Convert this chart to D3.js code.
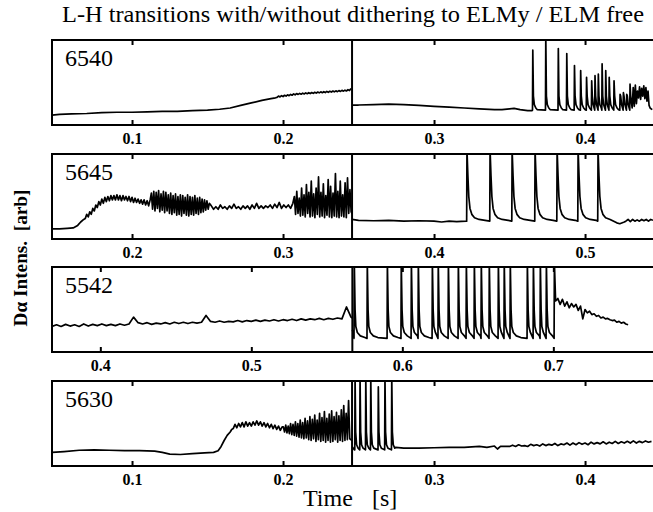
<!DOCTYPE html>
<html><head><meta charset="utf-8">
<script src="https://cdn.jsdelivr.net/npm/d3@7"></script>
<style>body{margin:0;background:#fff}svg{display:block}</style>
</head><body><svg id="c" width="653" height="512" font-family="Liberation Serif"></svg>
<script>
// ================= DATA =================
const titleText = "L-H transitions with/without dithering to ELMy / ELM free";
const yLabel = "D\u03b1 Intens.  [arb]";
const xLabelA = "Time", xLabelB = "[s]";
const shots = ["6540", "5645", "5542", "5630"];
const xDomains = [[0.047, 0.445], [0.147, 0.545], [0.368, 0.766], [0.047, 0.445]];
const splitTimes = [0.2457, 0.3457, 0.5669, 0.2457];
const tickValues = [[0.1, 0.2, 0.3, 0.4], [0.2, 0.3, 0.4, 0.5], [0.4, 0.5, 0.6, 0.7], [0.1, 0.2, 0.3, 0.4]];

// ---- shot 6540 ----
const s6540_L_pts = [[0.047,1.15],[0.052,1.25],[0.06,1.3],[0.07,1.35],[0.08,1.45],[0.09,1.5],[0.1,1.5],[0.11,1.55],[0.12,1.6],[0.13,1.6],[0.14,1.7],[0.15,1.75],[0.158,1.85],[0.165,2.0],[0.172,2.3],[0.179,2.6],[0.186,2.9],[0.192,3.1],[0.195,3.2]];
const s6540_L_noise = { t0: 0.196, dt: 0.001, v: [
  3.25,3.4,3.3,3.45,3.35,3.5,3.4,3.55,3.45,3.6,
  3.5,3.65,3.55,3.7,3.6,3.72,3.62,3.75,3.65,3.78,
  3.68,3.8,3.7,3.82,3.72,3.85,3.75,3.88,3.78,3.9,
  3.8,3.92,3.82,3.95,3.85,3.97,3.88,4.0,3.9,4.02,
  3.92,4.05,3.95,4.08,3.98,4.1,4.0,4.15,4.05,4.3] };
const s6540_R_pts = [[0.2457,2.35],[0.25,2.35],[0.26,2.4],[0.27,2.45],[0.28,2.4],[0.29,2.3],[0.30,2.2],[0.31,2.1],[0.32,2.0],[0.33,1.9],[0.34,1.8],[0.345,1.8],[0.35,1.9],[0.353,1.95],[0.357,1.8],[0.362,1.7],[0.365,1.7]];
const s6540_elm = [[0.3654,8.8],[0.3740,10.5],[0.3823,9.0],[0.3879,8.4],[0.3930,7.0],[0.3971,6.4],[0.4010,5.6],[0.4044,5.2],[0.4066,5.8],[0.4088,6.0],[0.4113,7.2],[0.4137,6.4],[0.4160,5.6],[0.4192,5.2],[0.4232,3.6],[0.4254,3.8],[0.4276,3.6],[0.4298,4.8]];
const s6540_elmBase = 1.75;
const s6540_elmTail = [[0.0004,3.4],[0.001,2.4],[0.002,2.0],[0.003,1.8]];
const s6540_R_noise = { t0: 0.4312, dt: 0.0007, v: [
  2.0,4.4,2.2,4.7,2.5,4.0,3.2,4.5,3.0,4.3,
  3.4,4.6,3.1,4.4,2.8,4.0,2.3,2.0,1.9,1.8] };

// ---- shot 5645 ----
const s5645_L_pts = [[0.147,1.2],[0.152,1.2],[0.157,1.25],[0.161,1.3],[0.164,1.6],[0.166,2.0],[0.168,2.3]];
const s5645_L_teeth = { t0: 0.169, dt: 0.001, v: [
  2.4,2.9,2.6,3.2,2.9,3.6,3.3,4.0,3.7,4.4,
  4.0,4.7,4.2,4.9,4.4,5.0,4.5,5.1,4.6,5.1,
  4.6,5.2,4.6,5.1,4.5,5.1,4.6,5.0,4.5,5.0,
  4.4,4.9,4.3,4.8,4.3,4.7,4.2,4.6,4.1,4.6,
  4.0,4.5,3.9,4.6] };
const s5645_L_burst1 = { t0: 0.2128, dt: 0.0008, v: [
  5.4,3.5,5.6,3.3,5.5,3.6,5.7,3.2,5.3,3.4,
  5.6,3.1,5.5,3.3,5.2,3.0,5.4,2.9,5.1,3.1,
  5.3,2.8,5.0,2.9,5.2,2.7,5.1,3.0,4.9,2.8,
  5.2,2.7,5.0,2.9,4.9,2.8,5.1,3.0,4.8,2.9,
  4.9,3.1,4.7,3.2,4.6,3.4,4.5,3.5,4.2] };
const s5645_L_teeth2 = { t0: 0.2525, dt: 0.0015, v: [
  3.9,3.5,3.8,3.5,4.0,3.6,3.8,3.5,3.9,3.6,
  4.1,3.6,3.8,3.5,3.9,3.6,3.9,3.5,4.0,3.6,
  4.2,3.6,3.9,3.6,3.9,3.7,4.0,3.6,4.1,3.7,
  4.3,3.6,4.0,3.7,4.0,3.6,4.2] };
const s5645_L_burst2 = { t0: 0.3075, dt: 0.0008, v: [
  5.0,2.9,5.6,3.0,4.8,2.7,6.0,2.8,5.2,2.6,
  6.4,3.0,5.5,2.6,6.8,2.7,5.3,2.5,6.0,2.9,
  7.3,2.6,5.5,2.7,6.5,2.5,5.1,2.8,7.0,2.6,
  6.2,2.5,5.4,2.7,7.7,2.6,5.6,2.5,6.8,2.7,
  5.2,2.6,6.6,2.5,7.2,3.0,5.8,3.2] };
const s5645_R_pts = [[0.3457,2.3],[0.35,2.2],[0.36,2.15],[0.37,2.2],[0.38,2.1],[0.39,2.15],[0.40,2.1],[0.405,2.0],[0.41,2.1],[0.415,2.05],[0.4212,2.1]];
const s5645_elm = [[0.4218,10.5],[0.4371,10.5],[0.4517,10.5],[0.4669,10.5],[0.4815,10.5],[0.4954,10.5],[0.5086,10.5]];
const s5645_elmBase = 2.1;
const s5645_elmTail = [[0.0006,7.5],[0.0012,5.0],[0.002,3.6],[0.0032,2.9],[0.005,2.5],[0.008,2.3],[0.012,2.2]];
const s5645_R_post = [[0.521,1.9],[0.523,1.8],[0.526,2.0]];
const s5645_R_noise = { t0: 0.527, dt: 0.0015, v: [2.1,2.3,2.05,2.3,2.1,2.25,2.1,2.3,2.15,2.3,2.1,2.3,2.2] };

// ---- shot 5542 ----
const s5542_L_noise = { t0: 0.368, dt: 0.003, v: [
  3.0,3.2,3.0,3.25,3.05,3.2,3.0,3.3,3.05,3.25,
  3.1,3.3,3.1,3.25,3.1,3.3,3.15,3.3,4.1,3.45,
  3.3,3.45,3.25,3.4,3.3,3.45,3.3,3.5,3.35,3.5,
  3.35,3.5,3.4,3.5,4.3,3.6,3.5,3.65,3.5,3.6,
  3.55,3.7,3.55,3.7,3.6,3.75,3.6,3.75,3.65,3.8,
  3.65,3.8,3.7,3.85,3.7,3.9,3.75,3.9,3.8,3.95,
  3.8,3.95,3.85,4.0,3.9,5.3,4.1] };
const s5542_L_end = [[0.5669,4.0]];
const s5542_R_pts = [[0.5669,2.6],[0.5676,2.2]];
const s5542_elm = [[0.5682,10.5],[0.5768,10.5],[0.5901,10.5],[0.5993,10.5],[0.6060,10.5],[0.6106,10.5],[0.6199,10.5],[0.6238,10.5],[0.6305,10.5],[0.6371,10.5],[0.6424,10.5],[0.6477,10.5],[0.6523,10.5],[0.6576,10.5],[0.6636,10.5],[0.6675,10.5],[0.6715,10.5],[0.6828,10.5],[0.6868,10.5],[0.6914,10.5],[0.6954,10.5],[0.7007,10.5]];
const s5542_elmBase = 1.6;
const s5542_elmTail = [[0.0005,5.0],[0.001,3.0],[0.002,2.3],[0.004,1.9],[0.007,1.7]];
const s5542_R_post = { t0: 0.7015, dt: 0.0015, v: [
  6.0,6.3,5.6,6.2,5.4,5.9,5.2,5.7,5.3,5.6,
  4.9,5.4,3.9,5.0,4.6,4.8,4.4,4.5,4.2,4.3,
  4.0,4.1,3.9,3.95,3.8,3.7,3.75,3.5,3.6,3.4,
  3.5,3.3,3.2] };

// ---- shot 5630 ----
const s5630_L_pts = [[0.047,1.6],[0.055,1.7],[0.065,1.85],[0.075,1.9],[0.085,1.85],[0.095,1.8],[0.105,1.8],[0.115,1.75],[0.12,1.6],[0.125,1.4],[0.132,1.35],[0.14,1.45],[0.148,1.55],[0.154,1.6],[0.157,1.8],[0.159,2.3],[0.161,3.0],[0.163,3.6],[0.165,4.0],[0.166,4.3]];
const s5630_L_teeth = { t0: 0.167, dt: 0.0012, v: [
  4.4,4.9,4.5,5.0,4.6,5.1,4.6,5.2,4.7,5.1,
  4.7,5.2,4.8,5.3,4.8,5.2,4.7,5.1,4.6,5.0,
  4.5,4.9,4.4,4.8,4.3,4.7,4.2,4.6] };
const s5630_L_burst = { t0: 0.2002, dt: 0.0008, v: [
  4.6,4.0,4.8,3.9,4.7,3.8,5.0,3.7,4.9,3.6,
  5.2,3.5,5.0,3.4,5.4,3.3,5.1,3.2,5.6,3.3,
  5.3,3.1,5.8,3.0,5.5,3.2,6.0,2.9,5.4,3.1,
  6.2,2.9,5.7,3.0,6.4,2.8,5.6,3.0,6.1,2.8,
  6.5,2.9,5.8,3.1,6.3,2.8,5.9,3.0,6.6,2.9,
  7.1,3.0,6.2,3.1,7.7,3.2] };
const s5630_L_end = [[0.2457,3.0]];
const s5630_R_pts = [[0.2457,2.3],[0.2472,1.9]];
const s5630_elm = [[0.2477,10.5],[0.2510,10.5],[0.2548,10.5],[0.2581,10.5],[0.2631,9.3],[0.2675,10.5],[0.2720,10.5]];
const s5630_elmBase = 1.9;
const s5630_elmTail = [[0.0004,4.0],[0.001,2.5],[0.002,2.1]];
const s5630_R_post = [[0.2745,2.2],[0.28,2.1],[0.29,2.1],[0.30,2.15],[0.31,2.2],[0.32,2.2],[0.33,2.3],[0.335,2.2],[0.34,2.35],[0.342,2.0],[0.344,2.3]];
const s5630_R_noise = { t0: 0.35, dt: 0.002, v: [
  2.3,2.45,2.3,2.5,2.35,2.4,2.3,2.55,2.4,2.5,
  2.35,2.6,2.4,2.55,2.45,2.65,2.4,2.6,2.5,2.7,
  2.45,2.7,2.5,2.75,2.55,2.7,2.5,2.8,2.6,2.75,
  2.6,2.85,2.6,2.8,2.65,2.9,2.65,2.85,2.7,2.9,
  2.7,2.95,2.7,2.9,2.75,2.95,2.8,2.9] };

// ================= helpers =================
const sampled = s => s.v.map((v, i) => [s.t0 + i * s.dt, v]);
function elmTrain(spikes, base, tail, until) {
  const out = [];
  spikes.forEach(([t, p], i) => {
    const next = i < spikes.length - 1 ? spikes[i + 1][0] : until;
    out.push([t - 0.0002, base], [t, p]);
    tail.forEach(([o, v]) => { if (t + o < next - 0.0004) out.push([t + o, v]); });
  });
  return out;
}

const traces = [
  { L: [...s6540_L_pts, ...sampled(s6540_L_noise)],
    R: [...s6540_R_pts, ...elmTrain(s6540_elm, s6540_elmBase, s6540_elmTail, 0.4312), ...sampled(s6540_R_noise)] },
  { L: [...s5645_L_pts, ...sampled(s5645_L_teeth), ...sampled(s5645_L_burst1), ...sampled(s5645_L_teeth2), ...sampled(s5645_L_burst2), [0.3457, 3.0]],
    R: [...s5645_R_pts, ...elmTrain(s5645_elm, s5645_elmBase, s5645_elmTail, 0.521), ...s5645_R_post, ...sampled(s5645_R_noise)] },
  { L: [...sampled(s5542_L_noise), ...s5542_L_end],
    R: [...s5542_R_pts, ...elmTrain(s5542_elm, s5542_elmBase, s5542_elmTail, 0.7015), ...sampled(s5542_R_post)] },
  { L: [...s5630_L_pts, ...sampled(s5630_L_teeth), ...sampled(s5630_L_burst), ...s5630_L_end],
    R: [...s5630_R_pts, ...elmTrain(s5630_elm, s5630_elmBase, s5630_elmTail, 0.2745), ...s5630_R_post, ...sampled(s5630_R_noise)] }
];

// ================= DRAW =================
const svg = d3.select("#c");
const FONT = "Liberation Serif";
const left = 52, right = 656, panelH = 85;
const panelTops = [40, 154, 267, 381];

svg.append("text").attr("x", 62).attr("y", 22)
  .attr("textLength", 582).attr("lengthAdjust", "spacingAndGlyphs")
  .attr("font-family", FONT).attr("font-size", 24).text(titleText);

svg.append("text").attr("transform", "translate(27,258) rotate(-90)")
  .attr("text-anchor", "middle").attr("textLength", 137).attr("lengthAdjust", "spacingAndGlyphs")
  .attr("font-family", FONT).attr("font-size", 18).attr("font-weight", "bold")
  .style("white-space", "pre").text(yLabel);

svg.append("text").attr("x", 303).attr("y", 506).attr("font-family", FONT).attr("font-size", 24).text(xLabelA);
svg.append("text").attr("x", 372).attr("y", 506).attr("font-family", FONT).attr("font-size", 24).text(xLabelB);

const line = d3.line();

shots.forEach((shot, i) => {
  const top = panelTops[i], bottom = top + panelH;
  const x = d3.scaleLinear().domain(xDomains[i]).range([left, 653]);
  const y = d3.scaleLinear().domain([0, 10]).range([bottom, top]);
  const g = svg.append("g");

  const cid = "clip" + i;
  svg.append("clipPath").attr("id", cid).append("rect")
    .attr("x", left).attr("y", top).attr("width", right - left).attr("height", panelH);

  const tr = g.append("g").attr("clip-path", `url(#${cid})`);
  ["L", "R"].forEach(k => {
    tr.append("path")
      .attr("d", line.x(d => x(d[0])).y(d => y(d[1]))(traces[i][k]))
      .attr("fill", "none").attr("stroke", "#000").attr("stroke-width", 1.7)
      .attr("stroke-linejoin", "round");
  });

  const ax = g.append("g").attr("transform", `translate(0,${bottom})`)
    .call(d3.axisBottom(x).tickValues(tickValues[i]).tickFormat(d3.format(".1f"))
      .tickSizeInner(-5).tickSizeOuter(0).tickPadding(8))
    .attr("font-family", FONT).attr("font-size", 16);
  ax.select(".domain").remove();
  ax.selectAll(".tick line").attr("stroke", "#000").attr("stroke-width", 2);
  ax.selectAll(".tick text").attr("font-weight", "bold").attr("fill", "#000");

  const axt = g.append("g").attr("transform", `translate(0,${top})`)
    .call(d3.axisTop(x).tickValues(tickValues[i]).tickFormat("").tickSizeInner(-5).tickSizeOuter(0));
  axt.select(".domain").remove();
  axt.selectAll(".tick line").attr("stroke", "#000").attr("stroke-width", 2);

  const fr = g.append("g").attr("stroke", "#000").attr("stroke-width", 2).attr("fill", "none");
  fr.append("path").attr("d", `M${right},${top}H${left}V${bottom}H${right}`);
  const xs = x(splitTimes[i]);
  fr.append("line").attr("x1", xs).attr("x2", xs).attr("y1", top).attr("y2", bottom);

  g.append("text").attr("x", 65).attr("y", top + 26)
    .attr("font-family", FONT).attr("font-size", 24).text(shot);
});
</script></body></html>
